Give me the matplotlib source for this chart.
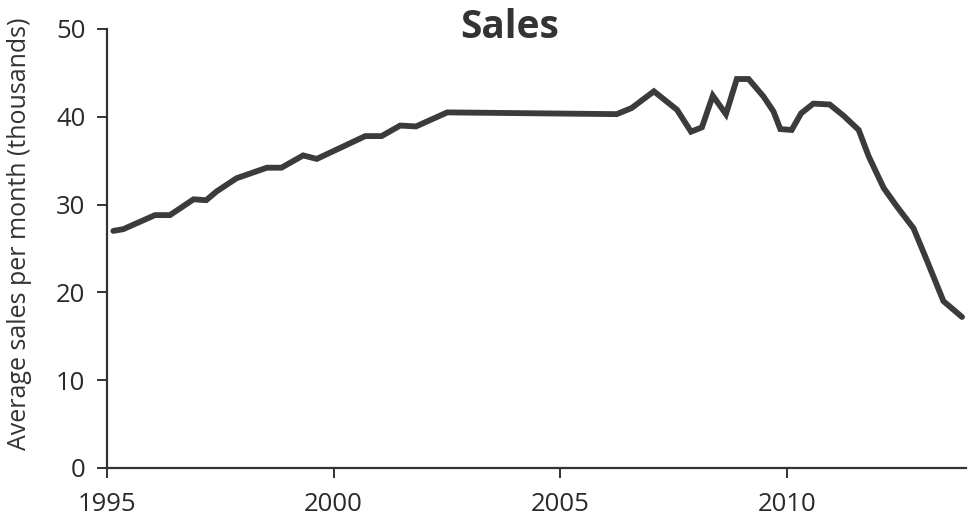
import matplotlib
matplotlib.use("Agg")
import matplotlib.pyplot as plt

plt.rcParams['font.family'] = ['Open Sans', 'DejaVu Sans']

# average monthly sales, thousands
years = [1995.14, 1995.36, 1996.06, 1996.39, 1996.91, 1997.19, 1997.42, 1997.86,
         1998.53, 1998.85, 1999.33, 1999.63, 2000.70, 2001.06, 2001.47, 2001.82,
         2002.51, 2006.25, 2006.58, 2007.07, 2007.58, 2007.89, 2008.13, 2008.37,
         2008.66, 2008.90, 2009.16, 2009.49, 2009.71, 2009.86, 2010.11, 2010.32,
         2010.59, 2010.95, 2011.26, 2011.59, 2011.81, 2012.14, 2012.43, 2012.80,
         2013.09, 2013.46, 2013.87]
sales = [27.0, 27.2, 28.8, 28.8, 30.6, 30.5, 31.5, 33.0,
         34.2, 34.2, 35.6, 35.2, 37.8, 37.8, 39.0, 38.9,
         40.5, 40.3, 41.0, 42.9, 40.8, 38.3, 38.8, 42.4,
         40.3, 44.3, 44.3, 42.3, 40.6, 38.6, 38.5, 40.4,
         41.5, 41.4, 40.1, 38.5, 35.5, 31.9, 29.8, 27.3,
         23.7, 19.0, 17.2]

xticks = [1995, 2000, 2005, 2010]
yticks = [0, 10, 20, 30, 40, 50]

fig = plt.figure(figsize=(9.69, 5.24), dpi=100)
ax = fig.add_axes([0.1104, 0.1069, 0.8866, 0.8378])

ax.plot(years, sales, color='#3b3b3b', lw=4.2, solid_joinstyle='miter',
        solid_capstyle='round')

ax.set_xlim(1995, 2013.96)
ax.set_ylim(0, 50)
ax.set_xticks(xticks)
ax.set_yticks(yticks)

for s in ['top', 'right']:
    ax.spines[s].set_visible(False)
for s in ['left', 'bottom']:
    ax.spines[s].set_color('#333333')
    ax.spines[s].set_linewidth(1.6)

ax.tick_params(axis='both', colors='#333333', width=1.4, length=7,
               labelsize=18.5, labelcolor='#2a2a2a')
ax.tick_params(axis='x', pad=10)
ax.tick_params(axis='y', pad=8.5)

ax.set_ylabel('Average sales per month (thousands)', fontsize=18, color='#333333')
ax.yaxis.set_label_coords(-0.087, 0.533)

fig.text(510 / 969, 1 - 37.5 / 524, 'Sales', ha='center', va='baseline',
         fontsize=28, fontweight='bold', color='#333333')

fig.savefig('out.png', dpi=100)
